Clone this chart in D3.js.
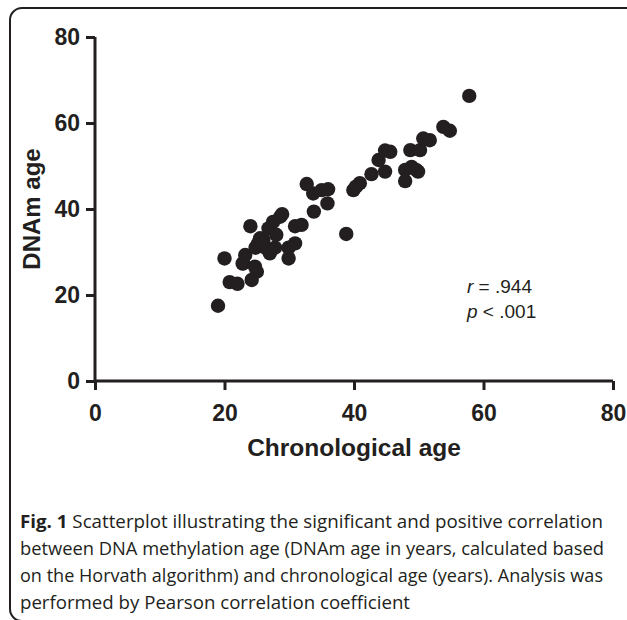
<!doctype html>
<meta charset="utf-8">
<body style="margin:0;background:#fff">

<div id="chart"></div>

<script src="https://d3js.org/d3.v7.min.js"></script>
<script>

// values
const chronAge = [19, 20, 20.8, 22, 22.8, 23.2, 24, 24.2, 24.7, 25, 24.8, 25.2, 26, 26.3, 25.5,
  27, 26.8, 27.5, 28.6, 28.9, 28, 27.8, 29.9, 29.9, 30.9, 30.9, 31.9, 32.7, 33.7, 35, 36, 35.9,
  33.8, 38.8, 39.9, 40.3, 40.9, 42.7, 43.8, 44.8, 44.8, 45.6, 47.9, 47.9, 48.9, 49.9, 48.7, 50.2,
  50.7, 51.7, 53.8, 54.8, 57.8, 49.6, 22.9]
const dnamAge = [17.5, 28.5, 23, 22.6, 27.3, 29.3, 36, 23.5, 26.6, 25.4, 31, 32, 32.8, 31, 33.2,
  29.7, 35.5, 37, 38.2, 38.8, 34, 31, 31, 28.5, 32, 36, 36.3, 45.8, 43.6, 44.4, 44.6, 41.3,
  39.4, 34.2, 44.4, 45.2, 46, 48.1, 51.4, 48.7, 53.6, 53.3, 46.5, 49.1, 49.8, 48.7, 53.7, 53.7,
  56.4, 56, 59.1, 58.2, 66.3, 49.1, 27.4]
const ticks = [0, 20, 40, 60, 80]
const statLines = [["r", " = .944"], ["p", " < .001"]]
const captionLines = [
  "Scatterplot illustrating the significant and positive correlation",
  "between DNA methylation age (DNAm age in years, calculated based",
  "on the Horvath algorithm) and chronological age (years). Analysis was",
  "performed by Pearson correlation coefficient"
]
const captionWidths = [583, 584, 583, 390]

const ink = "#231f20"

const svg = d3.select("#chart").append("svg")
  .attr("width", 627)
  .attr("height", 620)
  .style("display", "block")

// frame
svg.append("path")
  .attr("d", "M640,8 H22 A12,12 0 0 0 10,20 V609 A12,12 0 0 0 22,621 H640")
  .attr("fill", "none")
  .attr("stroke", ink)
  .attr("stroke-width", 2)

const x = d3.scaleLinear().domain([0, 80]).range([95, 613])
const y = d3.scaleLinear().domain([0, 80]).range([381, 37])

const xAxis = svg.append("g")
  .attr("transform", "translate(0,381)")
  .call(d3.axisBottom(x).tickValues(ticks).tickSize(9).tickSizeOuter(0).tickPadding(15))

const yAxis = svg.append("g")
  .attr("transform", "translate(95,0)")
  .call(d3.axisLeft(y).tickValues(ticks).tickSize(9).tickSizeOuter(0).tickPadding(6))

for (const g of [xAxis, yAxis]) {
  g.selectAll("path, line").attr("stroke", ink).attr("stroke-width", 3)
  g.selectAll("text")
    .attr("fill", ink)
    .style("font", "bold 23px 'Liberation Sans', Arial, sans-serif")
}
xAxis.select(".domain").attr("d", "M95,0H613")
yAxis.select(".domain").attr("d", "M0,381V37")

// points
svg.append("g")
  .selectAll("circle")
  .data(d3.zip(chronAge, dnamAge))
  .enter()
  .append("circle")
  .attr("cx", d => x(d[0]))
  .attr("cy", d => y(d[1]))
  .attr("r", 7.2)
  .attr("fill", ink)

// axis titles
svg.append("text")
  .attr("x", 354)
  .attr("y", 456)
  .attr("text-anchor", "middle")
  .attr("fill", ink)
  .style("font", "bold 24.5px 'Liberation Sans', Arial, sans-serif")
  .text("Chronological age")

svg.append("text")
  .attr("transform", "translate(40,209) rotate(-90)")
  .attr("text-anchor", "middle")
  .attr("fill", ink)
  .style("font", "bold 24px 'Liberation Sans', Arial, sans-serif")
  .text("DNAm age")

// stats
statLines.forEach((s, i) => {
  const t = svg.append("text")
    .attr("x", 467)
    .attr("y", 293 + i * 25)
    .attr("fill", ink)
    .style("font", "19px 'Liberation Sans', Arial, sans-serif")
  t.append("tspan").style("font-style", "italic").text(s[0])
  t.append("tspan").text(s[1])
})

// caption
captionLines.forEach((line, i) => {
  const t = svg.append("text")
    .attr("x", 20)
    .attr("y", 528 + i * 27)
    .attr("fill", ink)
    .attr("textLength", captionWidths[i])
    .attr("lengthAdjust", "spacingAndGlyphs")
    .style("font", "18px 'Open Sans', sans-serif")
  if (i == 0) {
    t.append("tspan").style("font-weight", "bold").text("Fig. 1")
    t.append("tspan").text(" " + line)
  } else {
    t.text(line)
  }
})

</script>
</body>
